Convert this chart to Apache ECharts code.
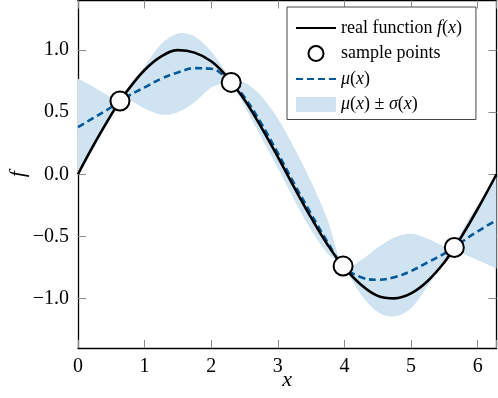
<!DOCTYPE html>
<html>
<head>
<meta charset="utf-8">
<script src="https://cdn.jsdelivr.net/npm/echarts@6/dist/echarts.min.js"></script>
<style>
html, body { margin: 0; padding: 0; background: #fff; }
#chart { width: 498px; height: 398px; }
</style>
</head>
<body>
<div id="chart"></div>
<script>
// values
var xs = [0, 0.25, 0.5, 0.63, 0.75, 1.0, 1.25, 1.5, 1.75, 2.0, 2.25, 2.30, 2.5, 2.75, 3.0, 3.25, 3.5, 3.75, 3.98, 4.25, 4.5, 4.75, 5.0, 5.25, 5.5, 5.65, 5.75, 6.0, 6.283];
var realValues = [0, 0.25, 0.48, 0.59, 0.68, 0.84, 0.95, 1.0, 0.98, 0.91, 0.78, 0.74, 0.60, 0.38, 0.14, -0.11, -0.35, -0.57, -0.74, -0.89, -0.98, -1.0, -0.96, -0.86, -0.71, -0.59, -0.51, -0.28, 0];
var meanValues = [0.38, 0.46, 0.54, 0.59, 0.63, 0.70, 0.77, 0.82, 0.855, 0.85, 0.77, 0.74, 0.62, 0.41, 0.17, -0.08, -0.32, -0.55, -0.74, -0.83, -0.85, -0.83, -0.78, -0.71, -0.64, -0.59, -0.55, -0.46, -0.37];
var upperValues = [0.77, 0.70, 0.62, 0.59, 0.67, 0.87, 1.05, 1.135, 1.11, 0.99, 0.80, 0.74, 0.74, 0.63, 0.45, 0.21, -0.06, -0.37, -0.74, -0.69, -0.59, -0.51, -0.48, -0.52, -0.58, -0.59, -0.47, -0.25, -0.02];
var lowerValues = [-0.01, 0.22, 0.46, 0.59, 0.60, 0.53, 0.48, 0.50, 0.58, 0.70, 0.74, 0.74, 0.55, 0.30, 0.05, -0.21, -0.45, -0.64, -0.74, -0.97, -1.11, -1.145, -1.08, -0.90, -0.70, -0.59, -0.63, -0.69, -0.76];
var sampleX = [0.63, 2.30, 3.98, 5.65];
var sampleY = [0.59, 0.74, -0.74, -0.59];
var xTicks = [0, 1, 2, 3, 4, 5, 6];
var yTicks = [-1, -0.5, 0, 0.5, 1];

var serif = 'Liberation Serif';
var bandColor = '#cfe3f1';

function pairs(ys) {
    return xs.map(function (x, i) { return [x, ys[i]]; });
}

// cubic hermite curve through pixel points (x monotone), as path commands
function curveTo(pts) {
    var n = pts.length, m = [], d = '';
    for (var i = 0; i < n; i++) {
        var a = pts[Math.max(i - 1, 0)], b = pts[Math.min(i + 1, n - 1)];
        m.push((b[1] - a[1]) / (b[0] - a[0]));
    }
    for (var j = 0; j < n - 1; j++) {
        var h = (pts[j + 1][0] - pts[j][0]) / 3;
        d += ' C' + (pts[j][0] + h) + ',' + (pts[j][1] + m[j] * h) + ' ' +
            (pts[j + 1][0] - h) + ',' + (pts[j + 1][1] - m[j + 1] * h) + ' ' +
            pts[j + 1][0] + ',' + pts[j + 1][1];
    }
    return d;
}

function renderBand(params, api) {
    var up = xs.map(function (x, i) { return api.coord([x, upperValues[i]]); });
    var low = xs.map(function (x, i) { return api.coord([x, lowerValues[i]]); }).reverse();
    var d = 'M' + up[0][0] + ',' + up[0][1] + curveTo(up) +
        ' L' + low[0][0] + ',' + low[0][1] + curveTo(low) + ' Z';
    return {
        type: 'path',
        shape: { pathData: d },
        style: { fill: bandColor, stroke: null }
    };
}

var chart = echarts.init(document.getElementById('chart'), null, { renderer: 'canvas' });

var tickStyle = { show: true, inside: true, length: 8, lineStyle: { color: '#8a8a8a', width: 1 } };
var boxLine = { show: true, onZero: false, lineStyle: { color: '#000', width: 1.3 } };

var legendNames = {
    real: '{n|real function }{i|f}{n|(}{i|x}{n|)}',
    samples: '{n|sample points}',
    mean: '{i|μ}{n|(}{i|x}{n|)}',
    band: '{i|μ}{n|(}{i|x}{n|) ± }{i|σ}{n|(}{i|x}{n|)}'
};

var option = {
    animation: false,
    backgroundColor: '#fff',
    grid: { left: 78, right: 1.5, top: 0.5, bottom: 50, containLabel: false, outerBoundsMode: 'none' },
    legend: {
        orient: 'vertical',
        left: 287,
        top: 7,
        itemWidth: 40,
        itemHeight: 15,
        itemGap: 7.5,
        padding: [12, 14, 6, 8],
        borderColor: '#444',
        borderWidth: 1,
        backgroundColor: '#fff',
        data: [
            { name: 'real', itemStyle: { opacity: 0 } },
            { name: 'samples', icon: 'circle' },
            { name: 'mean', itemStyle: { opacity: 0 } },
            { name: 'band', icon: 'rect', itemStyle: { color: bandColor, borderWidth: 0 } }
        ],
        formatter: function (name) { return legendNames[name]; },
        textStyle: {
            rich: {
                n: { fontFamily: serif, fontSize: 18, lineHeight: 18, color: '#000' },
                i: { fontFamily: serif, fontStyle: 'italic', fontSize: 18, lineHeight: 18, color: '#000' }
            }
        }
    },
    xAxis: [{
        type: 'value',
        min: 0,
        max: 6.2832,
        interval: 1,
        name: 'x',
        nameLocation: 'middle',
        nameGap: 21,
        nameMoveOverlap: false,
        nameTextStyle: { fontFamily: serif, fontStyle: 'italic', fontSize: 22, color: '#000' },
        axisLine: boxLine,
        axisTick: tickStyle,
        splitLine: { show: false },
        axisLabel: {
            margin: 9,
            fontFamily: serif,
            fontSize: 20,
            color: '#000',
            formatter: function (v) { return xTicks.indexOf(v) >= 0 ? String(v) : ''; }
        }
    }, {
        type: 'value',
        position: 'top',
        min: 0,
        max: 6.2832,
        interval: 1,
        axisLine: boxLine,
        axisTick: tickStyle,
        splitLine: { show: false },
        axisLabel: { show: false }
    }],
    yAxis: [{
        type: 'value',
        min: -1.4,
        max: 1.4,
        name: 'f',
        nameLocation: 'middle',
        nameRotate: 90,
        nameGap: 49,
        nameMoveOverlap: false,
        nameTextStyle: { fontFamily: serif, fontStyle: 'italic', fontSize: 22, color: '#000' },
        axisLine: boxLine,
        axisTick: Object.assign({}, tickStyle, { customValues: yTicks }),
        splitLine: { show: false },
        axisLabel: {
            customValues: yTicks,
            margin: 9,
            fontFamily: serif,
            fontSize: 20,
            color: '#000',
            formatter: function (v) { return (v < 0 ? '\u2212' : '') + Math.abs(v).toFixed(1); }
        }
    }, {
        type: 'value',
        position: 'right',
        min: -1.4,
        max: 1.4,
        axisLine: boxLine,
        axisTick: Object.assign({}, tickStyle, { customValues: yTicks }),
        splitLine: { show: false },
        axisLabel: { show: false }
    }],
    series: [{
        name: 'band',
        type: 'custom',
        data: [[0, 0]],
        renderItem: renderBand,
        clip: true,
        itemStyle: { color: bandColor },
        z: 1
    }, {
        name: 'mean',
        type: 'line',
        data: pairs(meanValues),
        smooth: 0.4,
        symbol: 'none',
        color: '#00599a',
        lineStyle: { color: '#00599a', width: 2.6, type: [7, 4] },
        z: 2
    }, {
        name: 'real',
        type: 'line',
        data: pairs(realValues),
        smooth: 0.4,
        symbol: 'none',
        color: '#000',
        lineStyle: { color: '#000', width: 2.6 },
        z: 3
    }, {
        name: 'samples',
        type: 'scatter',
        data: sampleX.map(function (x, i) { return [x, sampleY[i]]; }),
        symbol: 'circle',
        symbolSize: 19,
        itemStyle: { color: '#fff', borderColor: '#000', borderWidth: 2, opacity: 1 },
        z: 4
    }]
};

chart.setOption(option);
</script>
</body>
</html>
